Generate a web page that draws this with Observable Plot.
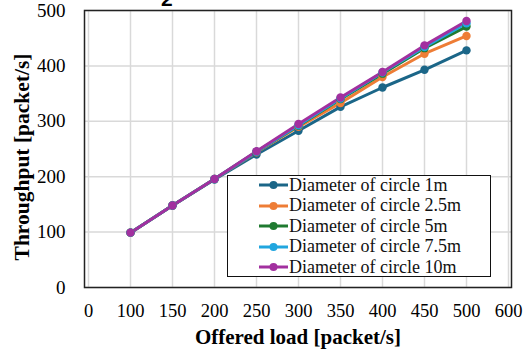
<!DOCTYPE html>
<html>
<head>
<meta charset="utf-8">
<script src="https://cdn.jsdelivr.net/npm/d3@7"></script>
<script src="https://cdn.jsdelivr.net/npm/@observablehq/plot@0.6"></script>
<style>
  body { margin: 0; background: #fff; }
  #wrap { position: relative; width: 527px; height: 350px; overflow: hidden; font-family: "Liberation Serif", "Times New Roman", serif; }
  #frag { position: absolute; left: 161px; top: -13px; font: bold 21px "Liberation Sans", Arial, sans-serif; color: #000; }
  #legend { position: absolute; left: 227px; top: 175px; width: 262px; height: 100px; border: 1.5px solid #111; background: #fff; }
  .row { position: absolute; left: 0; height: 20px; display: flex; align-items: center; font-size: 18px; color: #111; white-space: nowrap; }
  .row svg { margin-left: 31px; margin-right: 1px; }
</style>
</head>
<body>
<div id="wrap">
  <div id="chart"></div>
  <div id="frag">2</div>
  <div id="legend"></div>
</div>
<script>
const xTickLabels = ["0", "100", "150", "200", "250", "300", "350", "400", "450", "500", "600"];
const yTicks = [0, 100, 200, 300, 400, 500];
const loads = ["100", "150", "200", "250", "300", "350", "400", "450", "500"];
const seriesNames = ["Diameter of circle 1m", "Diameter of circle 2.5m", "Diameter of circle 5m", "Diameter of circle 7.5m", "Diameter of circle 10m"];
const colors = ["#1b6688", "#ee7d36", "#1f7a30", "#21a6df", "#a2309f"];
const d1m   = [99, 148, 195, 240, 283, 326, 361, 393, 428];
const d2_5m = [99, 148, 196, 244, 290, 333, 380, 422, 454];
const d5m   = [99, 148, 196, 245, 292, 340, 386, 432, 471];
const d7_5m = [99, 148, 196, 245, 293, 341, 388, 434, 477];
const d10m  = [99, 148, 196, 246, 295, 343, 389, 437, 481];
const seriesValues = [d1m, d2_5m, d5m, d7_5m, d10m];

const rows = [];
seriesNames.forEach((name, i) => {
  loads.forEach((l, j) => rows.push({ series: name, load: l, value: seriesValues[i][j] }));
});

const serif = "'Liberation Serif', 'Times New Roman', serif";
const chart = Plot.plot({
  width: 527,
  height: 350,
  marginLeft: 84,
  marginRight: 16,
  marginTop: 10,
  marginBottom: 63,
  style: { fontFamily: serif, background: "#fff", color: "#000" },
  x: { type: "point", domain: xTickLabels, padding: 0 },
  y: { domain: [0, 500] },
  color: { domain: seriesNames, range: colors },
  marks: [
    Plot.gridX(xTickLabels, { stroke: "#d9d9d9", strokeOpacity: 1, strokeWidth: 1.5 }),
    Plot.gridY(yTicks, { stroke: "#d9d9d9", strokeOpacity: 1, strokeWidth: 1.5 }),
    Plot.axisX({ tickSize: 0, tickPadding: 16, fontSize: 18.5, label: null }),
    Plot.axisY(yTicks, { tickSize: 0, tickPadding: 19, fontSize: 19, label: null }),
    Plot.line(rows, { x: "load", y: "value", z: "series", stroke: "series", strokeWidth: 3 }),
    Plot.dot(rows, { x: "load", y: "value", fill: "series", r: 4.2 }),
    Plot.frame({ stroke: "#222", strokeWidth: 1.5 }),
    Plot.text(["Offered load [packet/s]"], { frameAnchor: "bottom", textAnchor: "middle", dy: 56, fontSize: 21, fontWeight: "bold", fill: "#000" }),
    Plot.text(["Throughput [packet/s]"], { frameAnchor: "left", textAnchor: "middle", dx: -62, dy: 8, rotate: -90, fontSize: 21.5, fontWeight: "bold", fill: "#000" })
  ]
});
document.getElementById("chart").appendChild(chart);

const legend = document.getElementById("legend");
const rowTops = [0, 20.5, 41, 61.5, 82];
seriesNames.forEach((name, i) => {
  const r = document.createElement("div");
  r.className = "row";
  r.style.top = (rowTops[i] - 1) + "px";
  r.innerHTML = `<svg width="29" height="10"><line x1="0" y1="5" x2="29" y2="5" stroke="${colors[i]}" stroke-width="3"/><circle cx="14.5" cy="5" r="4" fill="${colors[i]}"/></svg><span>${name}</span>`;
  legend.appendChild(r);
});
</script>
</body>
</html>
